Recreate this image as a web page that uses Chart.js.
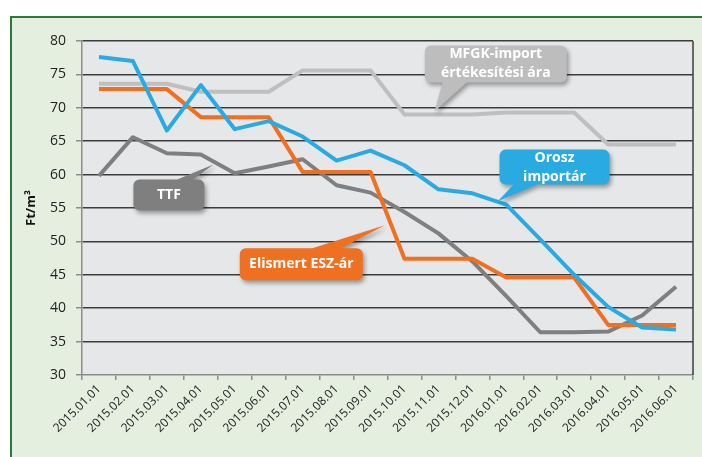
<!DOCTYPE html>
<html>
<head>
<meta charset="utf-8">
<script src="https://cdn.jsdelivr.net/npm/chart.js@4"></script>
<style>
  body { margin:0; background:#fff; overflow:hidden; }
  #frame { position:absolute; left:10px; top:16px; width:700px; height:450px; background:#e5efe0; border-left:2px solid #2b7a3c; border-top:2px solid #2b7a3c; }
  #wrap { position:absolute; left:0; top:0; width:702px; height:457px; }
</style>
</head>
<body>
<div id="frame"></div>
<div id="wrap"><canvas id="myChart"></canvas></div>
<script>
const ctx = document.getElementById('myChart').getContext('2d');

const labels = [
    "2015.01.01", "2015.02.01", "2015.03.01", "2015.04.01", "2015.05.01", "2015.06.01",
    "2015.07.01", "2015.08.01", "2015.09.01", "2015.10.01", "2015.11.01", "2015.12.01",
    "2016.01.01", "2016.02.01", "2016.03.01", "2016.04.01", "2016.05.01", "2016.06.01",
];
// Ft/m3
const oroszImport = [77.6, 77.0, 66.6, 73.4, 66.8, 68.0, 65.7, 62.1, 63.6, 61.4, 57.8, 57.2, 55.5, 50.3, 45.0, 40.2, 37.1, 36.8];
const elismertEsz = [72.8, 72.8, 72.8, 68.6, 68.6, 68.6, 60.4, 60.4, 60.4, 47.4, 47.4, 47.4, 44.6, 44.6, 44.6, 37.5, 37.5, 37.5];
const ttf = [59.8, 65.6, 63.2, 63.0, 60.2, 61.2, 62.3, 58.4, 57.3, 54.4, 51.2, 47.0, 41.8, 36.4, 36.4, 36.5, 38.9, 43.2];
const mfgkImport = [73.6, 73.6, 73.6, 72.4, 72.4, 72.4, 75.6, 75.6, 75.6, 69.0, 69.0, 69.0, 69.3, 69.3, 69.3, 64.5, 64.5, 64.5];

const yMin = 30;
const yMax = 80;
const yStep = 5;

/*---------------- callouts (anchored in data units) ----------------*/
const callouts = [
    { lines: ['MFGK-import', 'értékesítési ára'], color: '#bdbdbd', at: [11.69, 76.57], w: 142, h: 37, tip: [9.89, 69.5], base: [-53, -28], side: 'bottom' },
    { lines: ['Orosz', 'importár'], color: '#29abe2', at: [13.42, 61.12], w: 110, h: 35, tip: [11.75, 56.0], base: [-40, -15], side: 'bottom' },
    { lines: ['TTF'], color: '#7f7f7f', at: [2.06, 56.95], w: 71, h: 31, tip: [3.37, 61.5], base: [6, 23], side: 'top' },
    { lines: ['Elismert ESZ-ár'], color: '#f07022', at: [5.96, 46.57], w: 123, h: 32, tip: [8.42, 52.4], base: [8, 38], side: 'top' },
];

const plotFrame = {
    id: 'plotFrame',
    beforeDraw(chart) {
        const c = chart.ctx, a = chart.chartArea;
        c.save();
        c.fillStyle = '#e6e7e9';
        c.fillRect(a.left, a.top, a.right - a.left, a.bottom - a.top);
        c.restore();
    },
    beforeDatasetsDraw(chart) {
        const c = chart.ctx, a = chart.chartArea;
        c.save();
        c.strokeStyle = '#3c3c3c';
        c.lineWidth = 1.5;
        c.beginPath();
        c.moveTo(a.right, a.top);
        c.lineTo(a.right, a.bottom);
        c.stroke();
        c.restore();
    },
};

const calloutPlugin = {
    id: 'callouts',
    afterDatasetsDraw(chart) {
        const c = chart.ctx;
        const xs = chart.scales.x, ys = chart.scales.y;
        callouts.forEach(co => {
            const cx = xs.getPixelForValue(co.at[0]);
            const cy = ys.getPixelForValue(co.at[1]);
            const tx = xs.getPixelForValue(co.tip[0]);
            const ty = ys.getPixelForValue(co.tip[1]);
            const left = cx - co.w / 2, top = cy - co.h / 2;
            const x1 = cx + co.base[0], x2 = cx + co.base[1];
            c.save();
            c.shadowColor = 'rgba(0,0,0,0.35)';
            c.shadowBlur = 4;
            c.shadowOffsetX = 2;
            c.shadowOffsetY = 3;
            c.fillStyle = co.color;
            c.beginPath();
            c.roundRect(left, top, co.w, co.h, 6);
            if (co.side === 'bottom') {
                const by = top + co.h - 1;
                c.moveTo(x1, by);
                c.lineTo(x2, by);
                c.lineTo(tx, ty);
            } else {
                const by = top + 1;
                c.moveTo(x1, by);
                c.lineTo(tx, ty);
                c.lineTo(x2, by);
            }
            c.closePath();
            c.fill();
            c.restore();

            c.save();
            c.fillStyle = '#ffffff';
            c.font = 'bold 14px "Open Sans"';
            c.textAlign = 'center';
            c.textBaseline = 'middle';
            const lh = 19;
            co.lines.forEach((t, i) => {
                c.fillText(t, cx, cy + (i - (co.lines.length - 1) / 2) * lh);
            });
            c.restore();
        });
    },
};

const data = {
    labels: labels,
    datasets: [
    {
        label: 'Orosz importár',
        data: oroszImport,
        borderColor: '#29abe2',
        borderWidth: 4,
        pointRadius: 0,
        tension: 0,
        fill: false,
    },
    {
        label: 'Elismert ESZ-ár',
        data: elismertEsz,
        borderColor: '#f07022',
        borderWidth: 4,
        pointRadius: 0,
        tension: 0,
        fill: false,
    },
    {
        label: 'TTF',
        data: ttf,
        borderColor: '#7f7f7f',
        borderWidth: 4,
        pointRadius: 0,
        tension: 0,
        fill: false,
    },
    {
        label: 'MFGK-import értékesítési ára',
        data: mfgkImport,
        borderColor: '#bfbfbf',
        borderWidth: 4,
        pointRadius: 0,
        tension: 0,
        fill: false,
    },
    ],
};

const config = {
    type: 'line',
    data: data,
    plugins: [plotFrame, calloutPlugin],
    options: {
        responsive: true,
        maintainAspectRatio: false,
        animation: false,
        layout: { padding: { left: 0, right: 9, top: 41, bottom: 0 } },
        elements: { line: { borderJoinStyle: 'round' } },
        plugins: {
            legend: { display: false },
            tooltip: { enabled: false },
        },
        scales: {
            x: {
                offset: true,
                afterFit: s => { s.height = 82; },
                grid: {
                    offset: true,
                    drawOnChartArea: false,
                    tickLength: 5,
                    color: '#8c8c8c',
                    lineWidth: 1.5,
                },
                border: { color: '#8c8c8c', width: 1.5 },
                ticks: {
                    autoSkip: false,
                    maxRotation: 45,
                    minRotation: 45,
                    padding: 2,
                    color: '#222',
                    font: { family: 'Open Sans', size: 12 },
                },
            },
            y: {
                min: yMin,
                max: yMax,
                afterFit: s => { s.width = 82; },
                grid: {
                    color: c => c.tick.value === yMin ? 'rgba(0,0,0,0)' : '#3c3c3c',
                    lineWidth: 1.5,
                    tickLength: 6,
                    tickColor: '#8c8c8c',
                },
                border: { color: '#8c8c8c', width: 1.5 },
                ticks: {
                    stepSize: yStep,
                    padding: 10,
                    color: '#222',
                    font: { family: 'Open Sans', size: 14 },
                },
                title: {
                    display: true,
                    text: 'Ft/m³',
                    color: '#111',
                    font: { family: 'Open Sans', size: 13, weight: 'bold' },
                    padding: { top: 23, bottom: 0 },
                },
            },
        },
    },
};

const myChart = new Chart(ctx, config);
</script>
</body>
</html>
